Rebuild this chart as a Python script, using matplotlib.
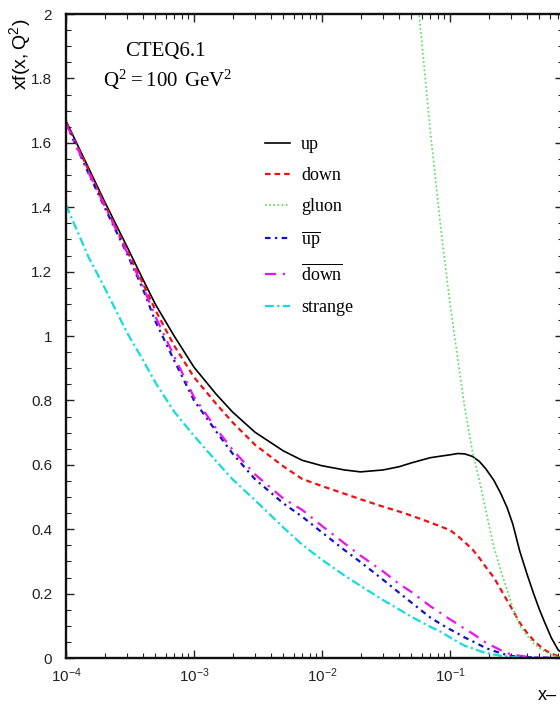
import matplotlib
matplotlib.use("Agg")
import matplotlib.pyplot as plt
from matplotlib.ticker import LogLocator, NullFormatter, MultipleLocator, FixedLocator

plt.rcParams['mathtext.fontset'] = 'custom'
plt.rcParams['mathtext.rm'] = 'Liberation Serif'
plt.rcParams['mathtext.sf'] = 'Liberation Sans'
plt.rcParams['font.family'] = ['Liberation Sans', 'DejaVu Sans']

# momentum fraction x
x_vals = [1e-4, 1.5e-4, 2e-4, 3e-4, 4e-4, 5e-4, 7e-4, 1e-3, 1.5e-3, 2e-3, 3e-3,
          5e-3, 7e-3, 1e-2, 1.5e-2, 2e-2, 3e-2, 4e-2, 5e-2, 0.07, 0.085, 0.1,
          0.115, 0.13, 0.15, 0.17, 0.19, 0.22, 0.25, 0.28, 0.31, 0.35, 0.4,
          0.45, 0.5, 0.55, 0.62, 0.7, 0.8]

up = [1.668, 1.522, 1.418, 1.277, 1.175, 1.098, 1.0, 0.903, 0.818, 0.764, 0.701,
      0.643, 0.614, 0.597, 0.584, 0.578, 0.584, 0.594, 0.606, 0.622, 0.627, 0.631,
      0.635, 0.634, 0.626, 0.61, 0.588, 0.552, 0.51, 0.466, 0.415, 0.333, 0.26,
      0.200, 0.150, 0.110, 0.062, 0.025, 0.008]
down = [1.665, 1.515, 1.41, 1.265, 1.162, 1.08, 0.97, 0.872, 0.788, 0.732, 0.662,
        0.595, 0.556, 0.534, 0.510, 0.493, 0.470, 0.455, 0.442, 0.421, 0.408, 0.397,
        0.379, 0.360, 0.337, 0.31, 0.283, 0.250, 0.212, 0.178, 0.148, 0.110, 0.078,
        0.055, 0.038, 0.025, 0.013, 0.006, 0.002]
ubar = [1.66, 1.505, 1.40, 1.255, 1.145, 1.045, 0.924, 0.80, 0.702, 0.635, 0.555,
        0.48, 0.439, 0.39, 0.335, 0.298, 0.243, 0.203, 0.172, 0.126, 0.105, 0.089,
        0.076, 0.064, 0.052, 0.041, 0.031, 0.022, 0.015, 0.009, 0.006, 0.004, 0.003,
        0.002, 0.001, 0.001, 0.0, 0.0, 0.0]
dbar = [1.66, 1.508, 1.405, 1.26, 1.152, 1.06, 0.937, 0.81, 0.711, 0.647, 0.57,
        0.495, 0.46, 0.41, 0.356, 0.318, 0.269, 0.23, 0.205, 0.161, 0.139, 0.12,
        0.105, 0.091, 0.076, 0.061, 0.048, 0.035, 0.024, 0.015, 0.01, 0.007, 0.004,
        0.002, 0.001, 0.001, 0.0, 0.0, 0.0]
strange = [1.407, 1.245, 1.15, 1.01, 0.925, 0.855, 0.765, 0.69, 0.61, 0.555, 0.49,
           0.405, 0.352, 0.305, 0.256, 0.224, 0.180, 0.151, 0.128, 0.097, 0.081, 0.064,
           0.05, 0.038, 0.03, 0.022, 0.016, 0.011, 0.007, 0.005, 0.003, 0.002, 0.001,
           0.0, 0.0, 0.0, 0.0, 0.0, 0.0]

x_gluon = [4e-2, 5e-2, 0.07, 0.085, 0.1, 0.115, 0.13, 0.15, 0.17, 0.19, 0.22,
           0.25, 0.28, 0.31, 0.35, 0.4, 0.45, 0.5, 0.55, 0.62, 0.7, 0.8]
gluon = [2.7, 2.25, 1.64, 1.33, 1.10, 0.93, 0.78, 0.64, 0.55, 0.46, 0.345,
         0.27, 0.21, 0.155, 0.10, 0.07, 0.045, 0.03, 0.02, 0.01, 0.004, 0.001]

x_ticks = [1e-4, 1e-3, 1e-2, 1e-1]
x_ticklabels = [r'$\mathsf{10^{-4}}$', r'$\mathsf{10^{-3}}$', r'$\mathsf{10^{-2}}$', r'$\mathsf{10^{-1}}$']
y_ticks = [0, 0.2, 0.4, 0.6, 0.8, 1, 1.2, 1.4, 1.6, 1.8, 2]
y_ticklabels = ['0', '0.2', '0.4', '0.6', '0.8', '1', '1.2', '1.4', '1.6', '1.8', '2']

fig = plt.figure(figsize=(5.6, 7.04), dpi=100)
ax = fig.add_axes([66 / 560, 46 / 704, 497 / 560, 644 / 704])

ax.plot(x_vals, up, color='black', lw=1.2, ls='-', label='up')
ax.plot(x_vals, down, color='#ee1111', lw=1.6, ls=(0, (2.5, 1.8)), label='down')
ax.plot(x_gluon, gluon, color='#55dd55', lw=1.2, ls=(0, (1, 1.5)), label='gluon')
ax.plot(x_vals, ubar, color='#1111cc', lw=1.6, ls=(0, (2.5, 2, 1, 2)),
        label=r'$\overline{\mathrm{up}}$')
ax.plot(x_vals, dbar, color='#ee11ee', lw=1.6, ls=(0, (5, 3, 1, 3)),
        label=r'$\overline{\mathrm{down}}$')
ax.plot(x_vals, strange, color='#11dddd', lw=1.6, ls=(0, (4, 1.5, 1, 1.5)),
        label='strange')

ax.set_xscale('log')
ax.set_xlim(1e-4, 10 ** (-4 + 497 / 128))
ax.set_ylim(0, 2)

ax.xaxis.set_major_locator(FixedLocator(x_ticks))
ax.set_xticklabels(x_ticklabels)
ax.xaxis.set_minor_locator(LogLocator(base=10, subs=range(2, 10)))
ax.xaxis.set_minor_formatter(NullFormatter())
ax.set_yticks(y_ticks)
ax.set_yticklabels(y_ticklabels)
ax.yaxis.set_minor_locator(MultipleLocator(0.05))

ax.tick_params(which='both', direction='in', top=True, right=True, colors='#222222')
ax.tick_params(which='major', length=6, width=1.0)
ax.tick_params(which='minor', length=3.5, width=0.8)
ax.tick_params(axis='x', which='major', pad=6, labelsize=11)
ax.tick_params(axis='y', which='major', pad=10, labelsize=11)
for s in ax.spines.values():
    s.set_linewidth(1.7)
    s.set_color('#111111')

ax.text(0.199, 0.941, 'CTEQ6.1', transform=ax.transAxes, ha='center', va='center',
        family='Liberation Serif', fontsize=15)
ax.text(0.205, 0.898, r'$\mathrm{Q^2 = 100\ GeV^2}$', transform=ax.transAxes,
        ha='center', va='center', fontsize=15)

fig.text(20 / 560, 1 - 54 / 704, r'$\mathsf{xf(x,Q^2)}$', rotation=90,
         ha='center', va='center', fontsize=14)
fig.text(538 / 560, 1 - 695 / 704, 'x\u2013', ha='left', va='center', fontsize=13)

ax.legend(loc='upper left', bbox_to_anchor=(0.386, 0.822), frameon=False,
          prop={'family': 'Liberation Serif', 'size': 13}, handlelength=1.4,
          labelspacing=0.78, handletextpad=0.6, borderaxespad=0, borderpad=0.4)

fig.savefig('out.png', dpi=100)
